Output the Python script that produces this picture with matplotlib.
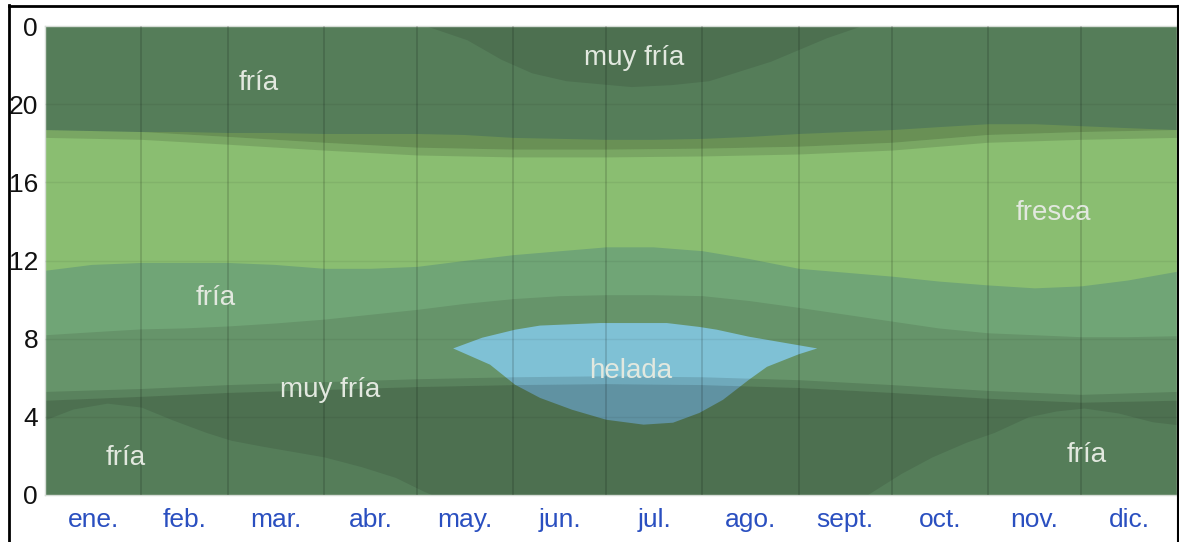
import numpy as np
import matplotlib
matplotlib.use("Agg")
import matplotlib.pyplot as plt
from matplotlib.lines import Line2D

# ---------------- data ----------------
months = ["ene.", "feb.", "mar.", "abr.", "may.", "jun.", "jul.", "ago.",
          "sept.", "oct.", "nov.", "dic."]
month_start = [0, 31, 59, 90, 120, 151, 181, 212, 243, 273, 304, 334, 365]
hour_ticks = [0, 4, 8, 12, 16, 20, 24]
hour_labels = ["0", "4", "8", "12", "16", "20", "0"]

grid_days = [0, 15, 31, 45, 59, 74, 90, 105, 120, 135, 151, 166, 181, 196,
             212, 227, 243, 258, 273, 288, 304, 319, 334, 349, 365]
# boundary muy fría -> fría (morning)
fria_am = [8.2, 8.35, 8.5, 8.55, 8.65, 8.8, 9.0, 9.25, 9.5, 9.8, 10.05, 10.2,
           10.25, 10.25, 10.2, 9.95, 9.6, 9.25, 8.9, 8.55, 8.3, 8.2, 8.1, 8.1, 8.15]
# boundary fría -> fresca (late morning)
fresca_am = [11.5, 11.8, 11.9, 11.9, 11.9, 11.8, 11.6, 11.6, 11.7, 12.0, 12.3,
             12.5, 12.7, 12.7, 12.5, 12.1, 11.6, 11.4, 11.2, 10.95, 10.75, 10.6,
             10.7, 11.0, 11.45]
# boundary fresca -> fría (evening)
fresca_pm = [18.7, 18.65, 18.6, 18.6, 18.55, 18.55, 18.5, 18.5, 18.5, 18.45,
             18.3, 18.25, 18.2, 18.2, 18.25, 18.35, 18.5, 18.6, 18.7, 18.85,
             19.0, 19.0, 18.9, 18.8, 18.7]

# muy fría at the end of the night (May - Sep)
top_mf_days = [123, 136, 147, 157, 168, 189, 202, 214, 224, 234, 243, 252, 263]
top_mf_hours = [24, 23.3, 22.3, 21.6, 21.2, 20.9, 21.0, 21.2, 21.7, 22.2, 22.8,
                23.4, 24]

# fría before dawn (summer months)
fria_night1_days = [0, 9, 20, 31, 41, 52, 60, 70, 90, 102, 113, 122, 125]
fria_night1_hours = [3.85, 4.4, 4.7, 4.5, 3.85, 3.2, 2.8, 2.5, 1.95, 1.45, 0.9,
                     0.2, 0]
fria_night2_days = [265, 276, 286, 297, 306, 317, 326, 335, 346, 357, 365]
fria_night2_hours = [0, 1.1, 1.95, 2.7, 3.2, 4.0, 4.3, 4.45, 4.2, 3.75, 3.6]

# helada
helada_up_days = [131.6, 141, 151.6, 159.6, 179, 200.5, 211, 216.6, 227, 238, 249]
helada_up_hours = [7.5, 8.05, 8.46, 8.67, 8.8, 8.8, 8.6, 8.46, 8.1, 7.8, 7.5]
helada_lo_days = [131.6, 143.5, 151.6, 159.6, 170, 181, 193, 202.5, 211, 218.6,
                  227, 232.8, 243, 249]
helada_lo_hours = [7.5, 6.67, 5.64, 4.97, 4.36, 3.85, 3.6, 3.7, 4.2, 4.87, 5.9,
                   6.56, 7.2, 7.5]

# daylight / twilight
sun_days = [0, 31, 59, 90, 120, 151, 181, 212, 243, 273, 304, 334, 365]
night_end = [4.85, 5.05, 5.25, 5.4, 5.55, 5.65, 5.7, 5.65, 5.5, 5.25, 4.95, 4.75, 4.85]
day_start = [5.3, 5.45, 5.65, 5.8, 5.95, 6.05, 6.1, 6.05, 5.9, 5.65, 5.35, 5.15, 5.3]
day_end = [18.3, 18.2, 17.95, 17.65, 17.4, 17.3, 17.3, 17.35, 17.45, 17.65, 18.05, 18.2, 18.3]
night_start = [18.7, 18.6, 18.35, 18.05, 17.8, 17.7, 17.7, 17.75, 17.85, 18.05, 18.45, 18.6, 18.7]

labels = [("fría", 69, 21.1), ("muy fría", 190, 22.35), ("fresca", 325, 14.45),
          ("fría", 55, 10.1), ("muy fría", 92, 5.35), ("helada", 189, 6.35),
          ("fría", 26, 1.9), ("fría", 336, 2.05)]

# ---------------- style ----------------
C_FRESCA = "#8abe71"
C_FRIA = "#70a576"
C_MUYFRIA = "#66946a"
C_HELADA = "#7fc1d5"
NIGHT_A = 0.24
TWI_A = 0.12
FONT = ["Liberation Sans", "DejaVu Sans"]

W, H = 1179, 542
fig = plt.figure(figsize=(W / 100, H / 100), dpi=100)
fig.patch.set_facecolor("white")
ax = fig.add_axes([45 / W, 1 - 495 / H, (1177 - 45) / W, (495 - 26) / H])

ax.fill_between(grid_days, 0, 24, color=C_MUYFRIA, lw=0)
ax.fill_between(grid_days, fria_am, 24, color=C_FRIA, lw=0)
ax.fill_between(grid_days, fresca_am, fresca_pm, color=C_FRESCA, lw=0)
ax.fill_between(top_mf_days, top_mf_hours, 24, color=C_MUYFRIA, lw=0)
ax.fill_between(fria_night1_days, 0, fria_night1_hours, color=C_FRIA, lw=0)
ax.fill_between(fria_night2_days, 0, fria_night2_hours, color=C_FRIA, lw=0)
ax.fill(np.r_[helada_up_days, helada_lo_days[::-1]],
        np.r_[helada_up_hours, helada_lo_hours[::-1]], color=C_HELADA, lw=0)

ax.fill_between(sun_days, 0, night_end, color="black", alpha=NIGHT_A, lw=0)
ax.fill_between(sun_days, night_start, 24, color="black", alpha=NIGHT_A, lw=0)
ax.fill_between(sun_days, night_end, day_start, color="black", alpha=TWI_A, lw=0)
ax.fill_between(sun_days, day_end, night_start, color="black", alpha=TWI_A, lw=0)

for d in month_start[1:-1]:
    ax.axvline(d, color="black", alpha=0.15, lw=1.3, zorder=5)
for h in hour_ticks[1:-1]:
    ax.axhline(h, color="black", alpha=0.06, lw=1.0, zorder=5)

for txt, d, h in labels:
    ax.text(d, h, txt, ha="center", va="center", fontsize=20, color="#e2e8df",
            family=FONT, zorder=6)

ax.set_xlim(0, 365)
ax.set_ylim(0, 24)
mids = [(month_start[i] + month_start[i + 1]) / 2 for i in range(12)]
ax.set_xticks(mids)
ax.set_xticklabels(months, family=FONT, fontsize=19, color="#2a4fc0")
ax.set_yticks(hour_ticks)
ax.set_yticklabels(hour_labels, family=FONT, fontsize=19, color="#111111")
ax.tick_params(axis="x", length=0, pad=9.5)
ax.tick_params(axis="y", length=0, pad=5)
for s in ax.spines.values():
    s.set_color("#d6dcd6")
    s.set_linewidth(1)

# screenshot frame
fig.add_artist(Line2D([9 / W, 9 / W], [0, 1 - 5 / H], transform=fig.transFigure,
                      color="black", lw=2))
fig.add_artist(Line2D([9 / W, 1178 / W], [1 - 6 / H, 1 - 6 / H],
                      transform=fig.transFigure, color="black", lw=2))
fig.add_artist(Line2D([1178.3 / W, 1178.3 / W], [0, 1 - 6 / H],
                      transform=fig.transFigure, color="black", lw=1.5))

fig.savefig("out.png", dpi=100, facecolor="white")
